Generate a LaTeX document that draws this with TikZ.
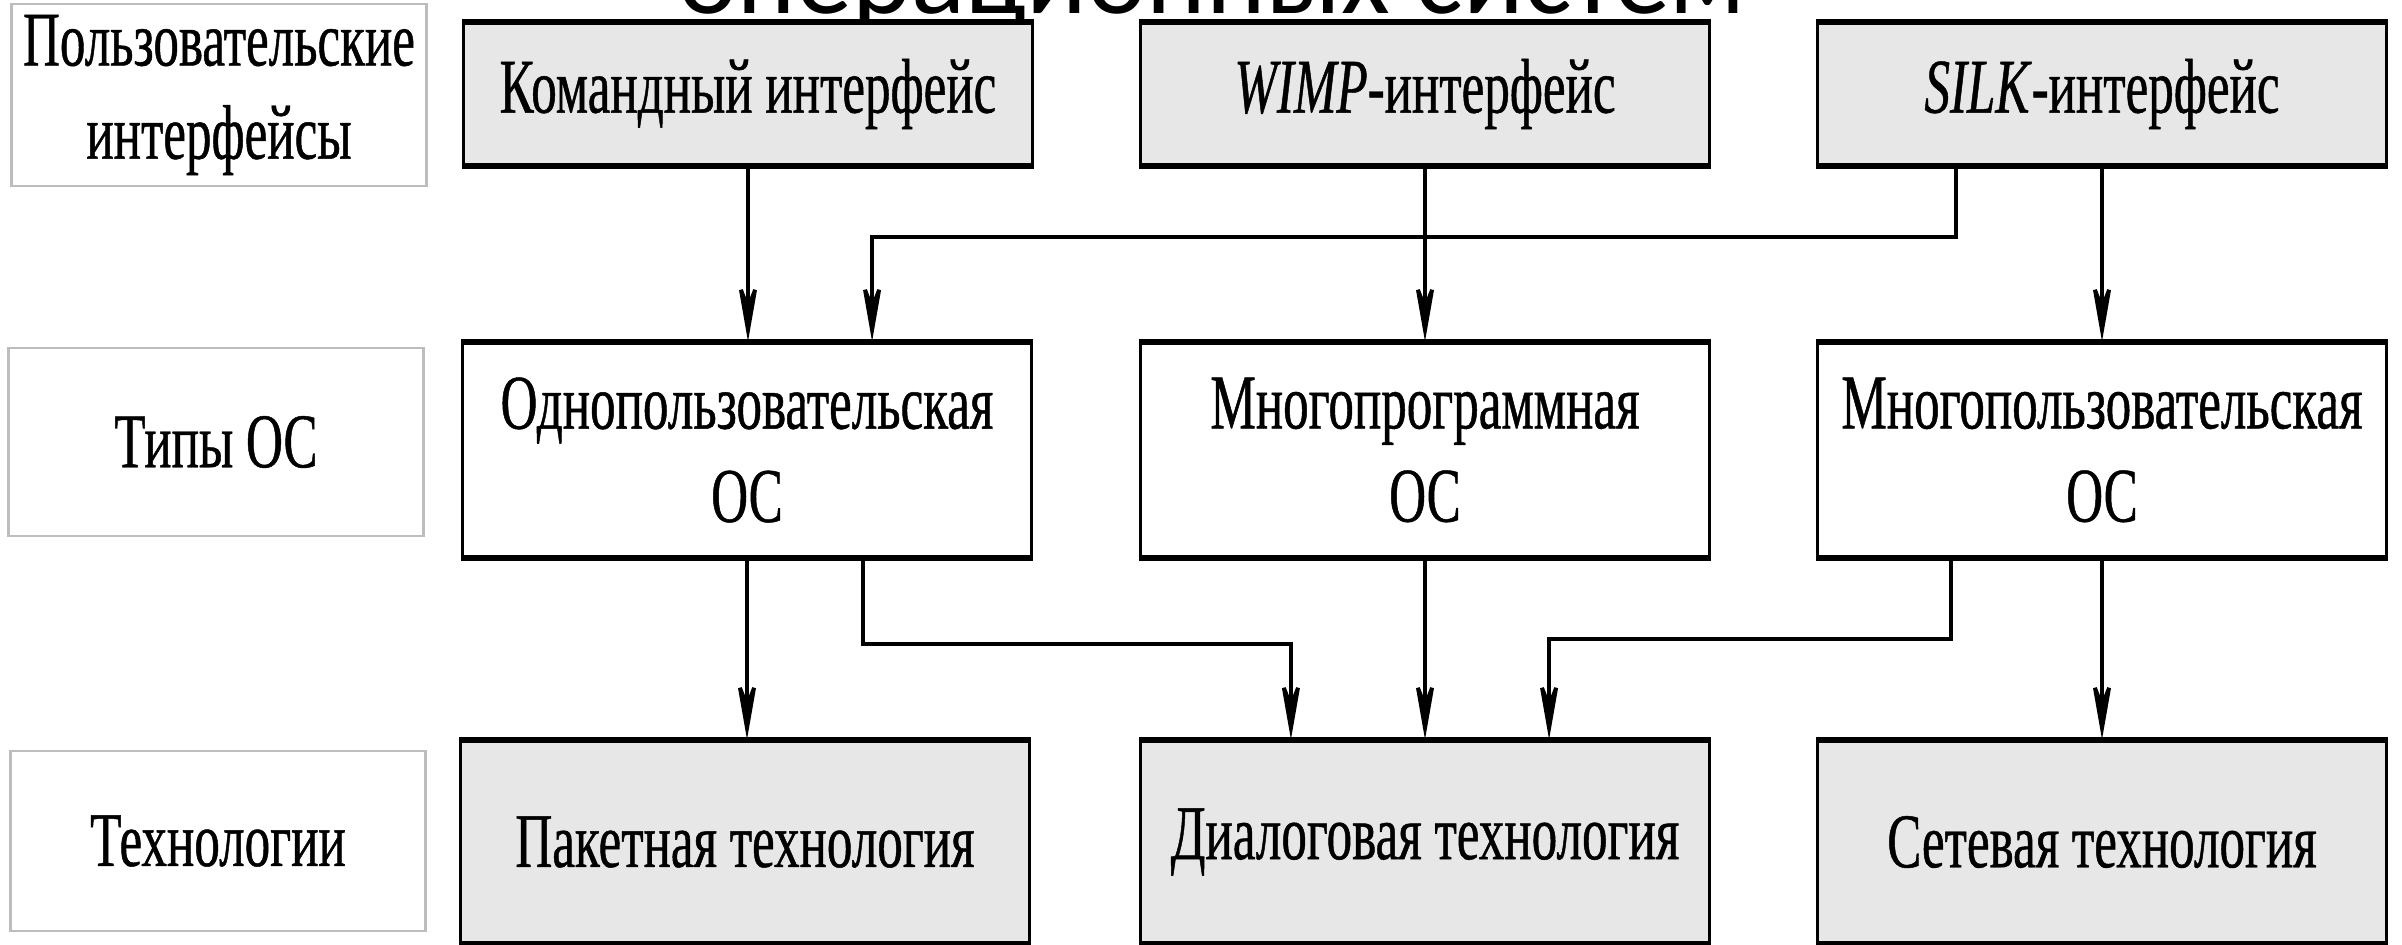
\documentclass[tikz,border=0pt]{standalone}
\usepackage{fontspec}
\setmainfont{Liberation Serif}[FakeStretch=0.66,FakeBold=0.6]
\newfontfamily\titlefont{Carlito}
\usetikzlibrary{arrows.meta}

\definecolor{boxgrey}{HTML}{E7E7E7}
\definecolor{labelgrey}{HTML}{BDBDBD}

\tikzset{
  box/.style={draw=black, line width=0.9pt, inner sep=0pt, minimum width=5.68cm,
    align=center, font=\fontsize{22pt}{26.5pt}\selectfont},
  grey box/.style={box, fill=boxgrey},
  white box/.style={box, fill=white},
  label box/.style={draw=labelgrey, line width=0.7pt, fill=white, inner sep=0pt,
    minimum width=4.15cm, align=center, font=\fontsize{22pt}{26.5pt}\selectfont},
  arr/.style={line width=1.1pt, -{Stealth[length=20pt,width=7pt,inset=9pt]}}
}

\begin{document}
\begin{tikzpicture}[x=0.01cm,y=-0.01cm]
  \useasboundingbox (0,0) rectangle (2402,944);

  % title, cut off by the page edge
  \node[anchor=base, font=\titlefont\fontsize{32pt}{36pt}\selectfont] (title) at (1212,13) {операционных систем};

  % row labels
  \node[label box, minimum height=1.82cm] (lblui) at (219,95) {Пользовательские\\интерфейсы};
  \node[label box, minimum height=1.88cm] (lblos) at (216,442) {Типы ОС};
  \node[label box, minimum height=1.80cm] (lbltech) at (218,841) {Технологии};

  % user interfaces
  \node[grey box, minimum height=1.42cm] (cmd) at (748,94) {Командный интерфейс};
  \node[grey box, minimum height=1.42cm] (wimp) at (1425,94) {\textit{WIMP}-интерфейс};
  \node[grey box, minimum height=1.42cm] (silk) at (2102,94) {\textit{SILK}-интерфейс};

  % OS types
  \node[white box, minimum height=2.14cm] (single) at (747,450) {Однопользовательская\\ОС};
  \node[white box, minimum height=2.14cm] (multiprog) at (1425,450) {Многопрограммная\\ОС};
  \node[white box, minimum height=2.14cm] (multiuser) at (2102,450) {Многопользовательская\\ОС};

  % technologies
  \node[grey box, minimum height=2.02cm] (batch) at (745,842) {Пакетная технология};
  \node[grey box, minimum height=2.02cm] (dialog) at (1425,842) {Диалоговая технология};
  \node[grey box, minimum height=2.02cm] (net) at (2102,842) {Сетевая технология};

  % heavier top and bottom edges
  \foreach \n in {cmd,wimp,silk,single,multiprog,multiuser,batch,dialog,net} {%
    \draw[line width=1.6pt] (\n.north west) -- (\n.north east) (\n.south west) -- (\n.south east);
  }

  % interfaces -> OS types
  \draw[arr] (cmd.south) -- (cmd.south |- single.north);
  \draw[arr] ([xshift=-1.46cm]silk.south) -- ++(0,70) -| ([xshift=1.25cm]single.north);
  \draw[arr] (wimp.south) -- (wimp.south |- multiprog.north);
  \draw[arr] (silk.south) -- (silk.south |- multiuser.north);

  % OS types -> technologies
  \draw[arr] (single.south) -- (single.south |- batch.north);
  \draw[arr] ([xshift=1.16cm]single.south) -- ++(0,85) -| ([xshift=-1.34cm]dialog.north);
  \draw[arr] (multiprog.south) -- (multiprog.south |- dialog.north);
  \draw[arr] ([xshift=-1.51cm]multiuser.south) -- ++(0,80) -| ([xshift=1.24cm]dialog.north);
  \draw[arr] (multiuser.south) -- (multiuser.south |- net.north);
\end{tikzpicture}
\end{document}
